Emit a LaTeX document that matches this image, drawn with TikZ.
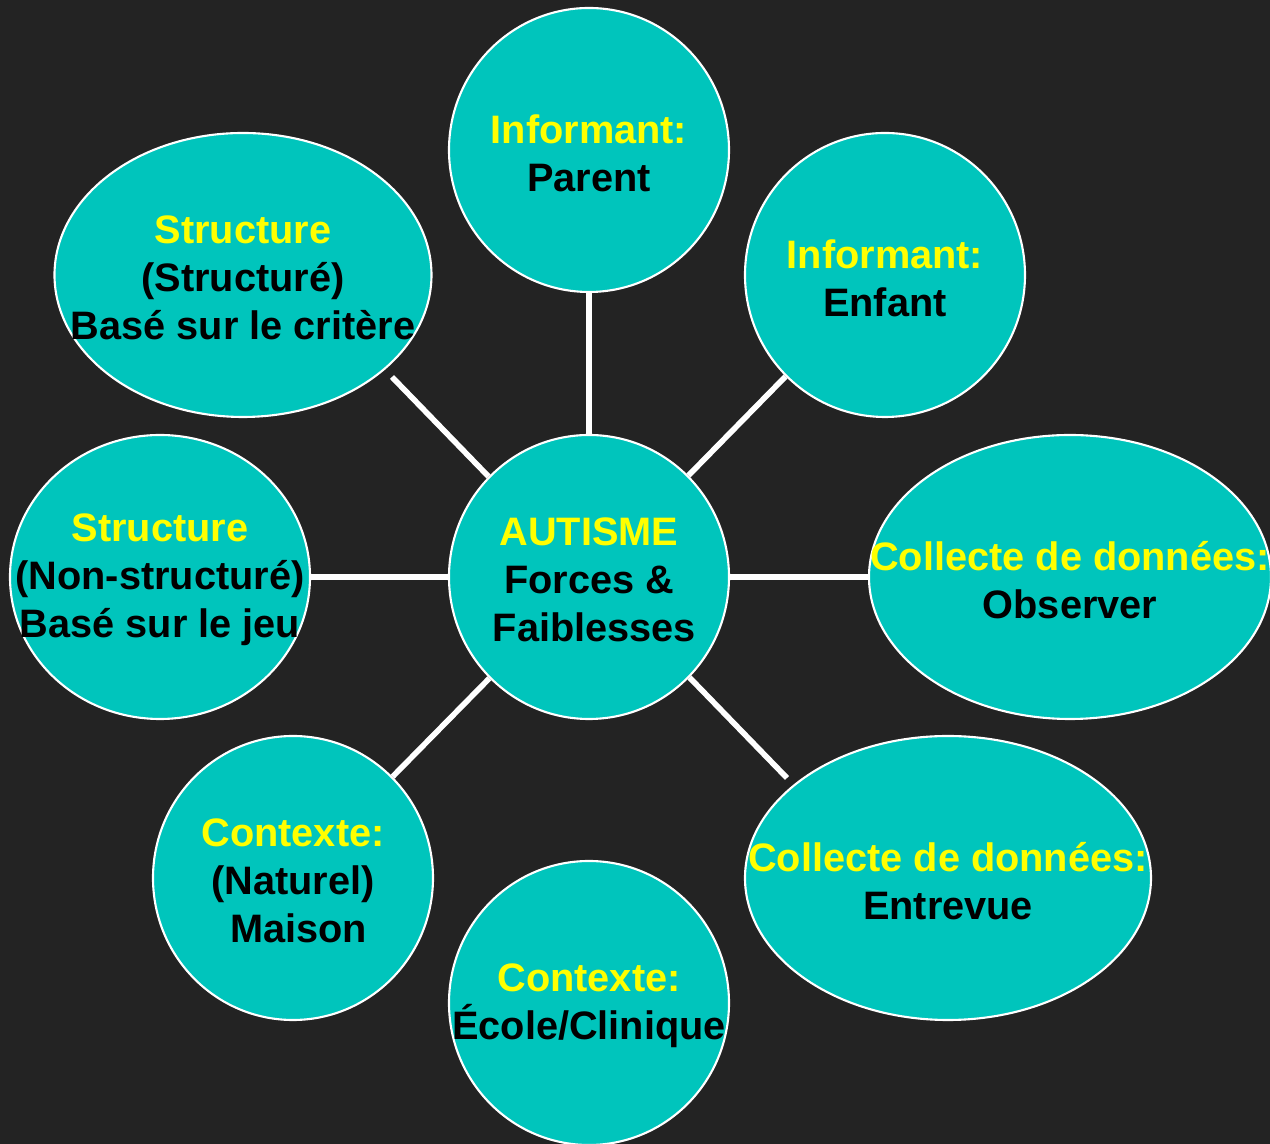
\documentclass[tikz,border=0pt]{standalone}
\usepackage{fontspec}
\setmainfont{Liberation Sans}
\usepackage{xcolor}
\usepackage{tikz}
\usetikzlibrary{shapes.geometric}
\definecolor{backdrop}{RGB}{35,35,35}
\definecolor{aqua}{RGB}{0,197,188}
\definecolor{yel}{RGB}{255,255,0}
\newcommand{\hd}[1]{\textcolor{yel}{#1}}
\tikzset{
	bubble/.style={
			ellipse, draw=white, line width=0.6pt, fill=aqua, inner sep=0pt,
			minimum width=2.8cm, minimum height=2.84cm
		},
	txt/.style={align=center, text=black, yshift=-0.03cm},
	link/.style={draw=white, line width=1.6pt}
}

\begin{document}
\begin{tikzpicture}[font=\fontsize{11.3}{13.7}\selectfont\bfseries]
			\fill[backdrop] (-5.89,-5.67) rectangle (6.81,5.77);
			\useasboundingbox (-5.89,-5.67) rectangle (6.81,5.77);

			\node[bubble, label={[txt]center:{\hd{AUTISME}\\Forces \&\\\ Faiblesses}}] (c) at (0,0) {};
			\node[bubble, label={[txt]center:{\hd{Informant:}\\Parent}}] (t) at (0,4.27) {};
			\node[bubble, label={[txt]center:{\hd{Informant:}\\Enfant}}] (tr) at (2.96,3.02) {};
			\node[bubble, minimum width=4.02cm, label={[txt]center:{\hd{Collecte de données:}\\Observer}}] (r) at (4.81,0) {};
			\node[bubble, minimum width=4.06cm, label={[txt]center:{\hd{Collecte de données:}\\Entrevue}}] (br) at (3.59,-3.01) {};
			\node[bubble, label={[txt]center:{\hd{Contexte:}\\École/Clinique}}] (b) at (0,-4.26) {};
			\node[bubble, label={[txt]center:{\hd{Contexte:}\\(Naturel)\\\ Maison}}] (bl) at (-2.96,-3.01) {};
			\node[bubble, minimum width=3.0cm, label={[txt]center:{\hd{Structure}\\(Non-structuré)\\Basé sur le jeu}}] (l) at (-4.29,0) {};
			\node[bubble, minimum width=3.77cm, label={[txt]center:{\hd{Structure}\\(Structuré)\\Basé sur le critère}}] (tl) at (-3.46,3.02) {};

			\coordinate (tlend) at (-1.97,2.0);
			\coordinate (brend) at (1.98,-2.01);

			\foreach \n in {t, tr, r, bl, l} {
				\draw[link] (c) -- (\n);
			}
			\draw[link] (c.135) -- (tlend);
			\draw[link] (c.-45) -- (brend);
		\end{tikzpicture}
\end{document}
